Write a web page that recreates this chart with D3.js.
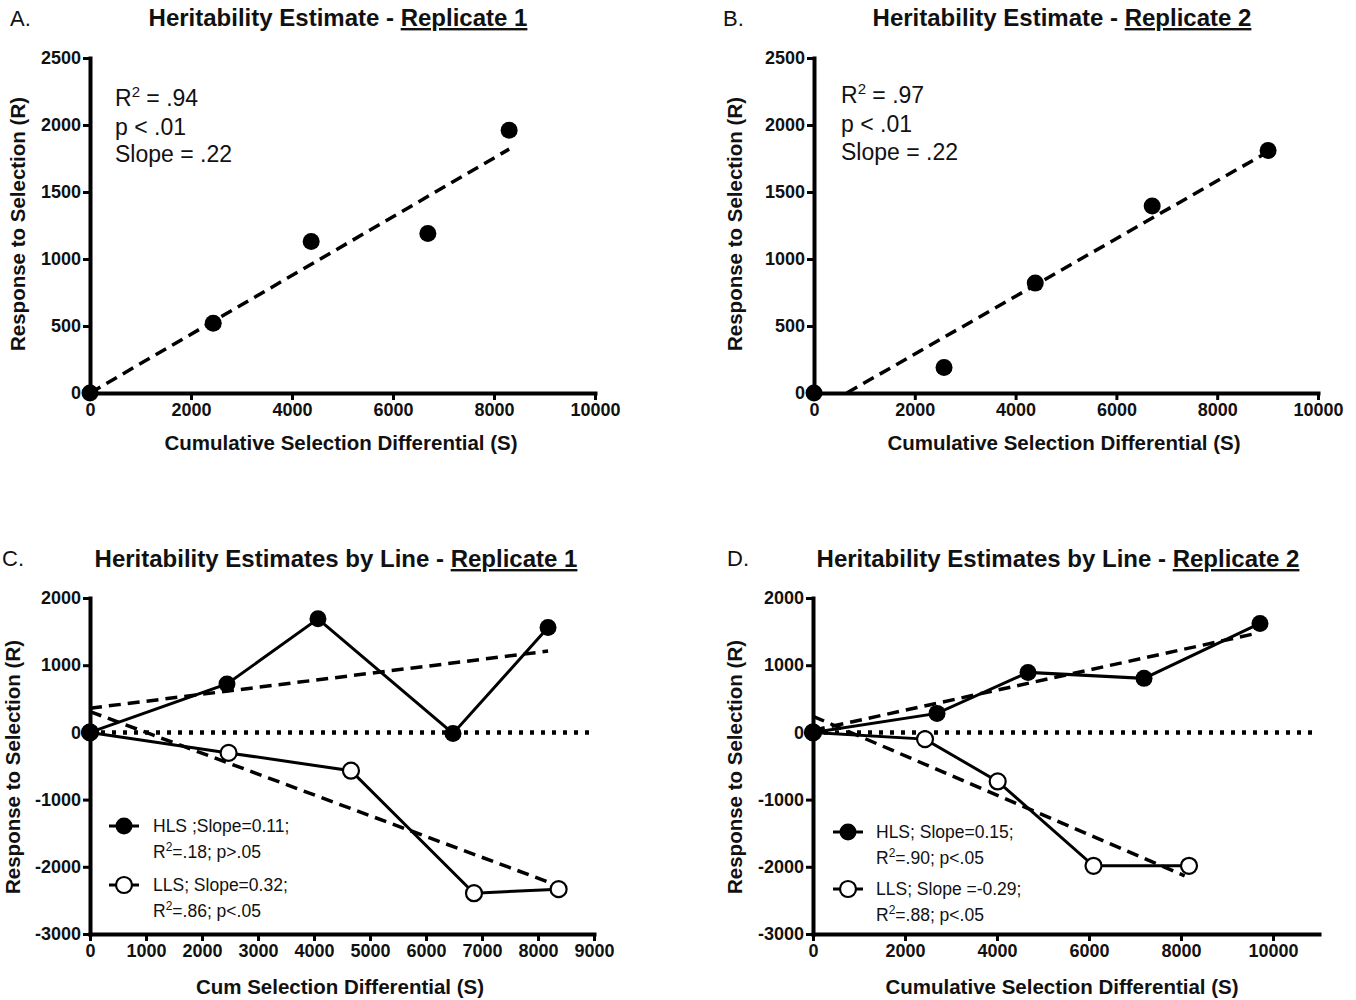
<!DOCTYPE html>
<html><head><meta charset="utf-8">
<script src="https://cdn.jsdelivr.net/npm/d3@7/dist/d3.min.js"></script>
<style>
body{margin:0;background:#fff;}
text{font-family:"Liberation Sans",Arial,sans-serif;fill:#111;}
</style></head><body>
<svg id="c" width="1356" height="1000"></svg>
<script>
// ---- Panel A (Replicate 1, pooled) ----
const aS = [0, 2440, 4380, 6690, 8300];
const aR = [0, 520, 1130, 1190, 1960];
const aFitS = [0, 8300];
const aFitR = [0, 1820];
// ---- Panel B (Replicate 2, pooled) ----
const bS = [0, 2580, 4390, 6710, 9010];
const bR = [0, 190, 820, 1395, 1810];
const bFitS = [650, 8890];
const bFitR = [0, 1775];
// ---- Panel C (Replicate 1 by line) ----
const cHlsS = [0, 2446, 4071, 6482, 8179];
const cHlsR = [0, 720, 1690, -15, 1560];
const cLlsS = [0, 2475, 4660, 6857, 8368];
const cLlsR = [0, -305, -570, -2393, -2333];
const cHlsFitS = [0, 8180], cHlsFitR = [360, 1210];
const cLlsFitS = [0, 8375], cLlsFitR = [310, -2285];
// ---- Panel D (Replicate 2 by line) ----
const dHlsS = [0, 2696, 4674, 7196, 9717];
const dHlsR = [0, 283, 893, 804, 1622];
const dLlsS = [0, 2435, 4015, 6098, 8174];
const dLlsR = [0, -100, -730, -1985, -1985];
const dHlsFitS = [0, 9667], dHlsFitR = [30, 1478];
const dLlsFitS = [0, 8080], dLlsFitR = [240, -2134];
// ---- tick labels ----
const ticksAB_x = [0, 2000, 4000, 6000, 8000, 10000];
const ticksAB_y = [0, 500, 1000, 1500, 2000, 2500];
const ticksC_x = [0, 1000, 2000, 3000, 4000, 5000, 6000, 7000, 8000, 9000];
const ticksD_x = [0, 2000, 4000, 6000, 8000, 10000];
const ticksCD_y = [-3000, -2000, -1000, 0, 1000, 2000];

const svg = d3.select("#c");
const zip = (s, r) => s.map((v, i) => [v, r[i]]);
const fmt = d => String(d);

function panel(o) {
  const g = svg.append("g");
  const x = d3.scaleLinear().domain(o.xd).range(o.xr);
  const y = d3.scaleLinear().domain(o.yd).range(o.yr);
  const ax = g.append("g").attr("transform", `translate(0,${o.yr[0]})`)
    .call(d3.axisBottom(x).tickValues(o.xt).tickSize(7).tickSizeOuter(0).tickPadding(3).tickFormat(fmt));
  const ay = g.append("g").attr("transform", `translate(${o.xr[0]},0)`)
    .call(d3.axisLeft(y).tickValues(o.yt).tickSize(7).tickSizeOuter(0).tickPadding(2).tickFormat(fmt));
  [ax, ay].forEach(a => {
    a.select(".domain").attr("stroke", "#000").attr("stroke-width", 4).attr("stroke-linecap", "square");
    a.selectAll(".tick line").attr("stroke", "#000").attr("stroke-width", 3);
    a.selectAll(".tick text").attr("font-size", 18).attr("font-weight", "bold")
      .style("font-family", '"Liberation Sans",Arial,sans-serif').attr("fill", "#111");
  });
  if (o.zero) {
    g.append("line").attr("x1", x(0)).attr("x2", o.xr[1]).attr("y1", y(0)).attr("y2", y(0))
      .attr("stroke", "#000").attr("stroke-width", 4.5).attr("stroke-dasharray", "4,7");
  }
  const line = d3.line().x(d => x(d[0])).y(d => y(d[1]));
  o.fits.forEach(f => {
    g.append("path").attr("d", line(zip(f[0], f[1]))).attr("fill", "none")
      .attr("stroke", "#000").attr("stroke-width", 3.5).attr("stroke-dasharray", "12,7");
  });
  o.series.forEach(s => {
    if (s.connect) g.append("path").attr("d", line(zip(s.S, s.R))).attr("fill", "none")
      .attr("stroke", "#000").attr("stroke-width", 3);
    g.selectAll(null).data(zip(s.S, s.R)).enter().append("circle")
      .attr("cx", d => x(d[0])).attr("cy", d => y(d[1]))
      .attr("r", s.open ? 8 : 8.5)
      .attr("fill", s.open ? "#fff" : "#000").attr("stroke", "#000").attr("stroke-width", s.open ? 2.2 : 0);
  });
  if (o.series.length > 1) {
    g.append("circle").attr("cx", x(0)).attr("cy", y(0)).attr("r", 8.5).attr("fill", "#000");
  }
  g.append("text").attr("x", o.xlab[1]).attr("y", o.xlab[2]).attr("text-anchor", "middle")
    .attr("font-size", 20.5).attr("font-weight", "bold").text(o.xlab[0]);
  g.append("text").attr("transform", `translate(${o.ylab[0]},${o.ylab[1]}) rotate(-90)`)
    .attr("text-anchor", "middle").attr("font-size", 20.5).attr("font-weight", "bold")
    .text("Response to Selection (R)");
  const t = g.append("text").attr("x", o.title[2]).attr("y", o.title[3]).attr("text-anchor", "middle")
    .attr("font-size", 24).attr("font-weight", "bold");
  t.append("tspan").text(o.title[0]);
  t.append("tspan").style("text-decoration", "underline").text(o.title[1]);
  g.append("text").attr("x", o.letter[1]).attr("y", o.letter[2]).attr("font-size", 22).text(o.letter[0]);
  return {g, x, y};
}

function r2stats(g, x0, ys, r2) {
  const t1 = g.append("text").attr("x", x0).attr("y", ys[0]).attr("font-size", 23);
  t1.append("tspan").text("R");
  t1.append("tspan").attr("dy", -9).attr("font-size", 15).text("2");
  t1.append("tspan").attr("dy", 9).text(" = " + r2);
  g.append("text").attr("x", x0).attr("y", ys[1]).attr("font-size", 23).text("p < .01");
  g.append("text").attr("x", x0).attr("y", ys[2]).attr("font-size", 23).text("Slope = .22");
}

function legend(g, mx, tx, items) {
  items.forEach(it => {
    g.append("line").attr("x1", mx - 15).attr("x2", mx + 15).attr("y1", it.y).attr("y2", it.y)
      .attr("stroke", "#000").attr("stroke-width", 3);
    g.append("circle").attr("cx", mx).attr("cy", it.y).attr("r", it.open ? 8 : 8.5)
      .attr("fill", it.open ? "#fff" : "#000").attr("stroke", "#000").attr("stroke-width", it.open ? 2.2 : 0);
    g.append("text").attr("x", tx).attr("y", it.y + 6).attr("font-size", 17.5).text(it.l1);
    const t = g.append("text").attr("x", tx).attr("y", it.y + 32).attr("font-size", 17.5);
    t.append("tspan").text("R");
    t.append("tspan").attr("dy", -7).attr("font-size", 12).text("2");
    t.append("tspan").attr("dy", 7).text(it.l2);
  });
}

const A = panel({xd: [0, 10000], xr: [90, 595], yd: [0, 2500], yr: [393, 58], xt: ticksAB_x, yt: ticksAB_y,
  fits: [[aFitS, aFitR]], series: [{S: aS, R: aR}],
  xlab: ["Cumulative Selection Differential (S)", 341, 450], ylab: [25, 224],
  title: ["Heritability Estimate - ", "Replicate 1", 338, 26], letter: ["A.", 10, 26]});
r2stats(A.g, 115, [106, 135, 162], ".94");

const B = panel({xd: [0, 10000], xr: [814, 1318], yd: [0, 2500], yr: [393, 58], xt: ticksAB_x, yt: ticksAB_y,
  fits: [[bFitS, bFitR]], series: [{S: bS, R: bR}],
  xlab: ["Cumulative Selection Differential (S)", 1064, 450], ylab: [742, 224],
  title: ["Heritability Estimate - ", "Replicate 2", 1062, 26], letter: ["B.", 723, 26]});
r2stats(B.g, 841, [103, 132, 160], ".97");

const C = panel({xd: [0, 9000], xr: [90, 594], yd: [-3000, 2000], yr: [934, 598], xt: ticksC_x, yt: ticksCD_y,
  zero: true, fits: [[cHlsFitS, cHlsFitR], [cLlsFitS, cLlsFitR]],
  series: [{S: cLlsS, R: cLlsR, open: true, connect: true}, {S: cHlsS, R: cHlsR, connect: true}],
  xlab: ["Cum Selection Differential (S)", 340, 994], ylab: [20, 767],
  title: ["Heritability Estimates by Line -  ", "Replicate 1", 336, 567], letter: ["C.", 2, 566]});
legend(C.g, 124, 153, [{y: 826, l1: "HLS ;Slope=0.11;", l2: "=.18; p>.05"}, {y: 885, open: true, l1: "LLS; Slope=0.32;", l2: "=.86; p<.05"}]);

const D = panel({xd: [0, 11000], xr: [813, 1319], yd: [-3000, 2000], yr: [934, 598], xt: ticksD_x, yt: ticksCD_y,
  zero: true, fits: [[dHlsFitS, dHlsFitR], [dLlsFitS, dLlsFitR]],
  series: [{S: dLlsS, R: dLlsR, open: true, connect: true}, {S: dHlsS, R: dHlsR, connect: true}],
  xlab: ["Cumulative Selection Differential (S)", 1062, 994], ylab: [742, 767],
  title: ["Heritability Estimates by Line - ", "Replicate 2", 1058, 567], letter: ["D.", 727, 566]});
legend(D.g, 848, 876, [{y: 832, l1: "HLS; Slope=0.15;", l2: "=.90; p<.05"}, {y: 889, open: true, l1: "LLS; Slope =-0.29;", l2: "=.88; p<.05"}]);
</script>
</body></html>
